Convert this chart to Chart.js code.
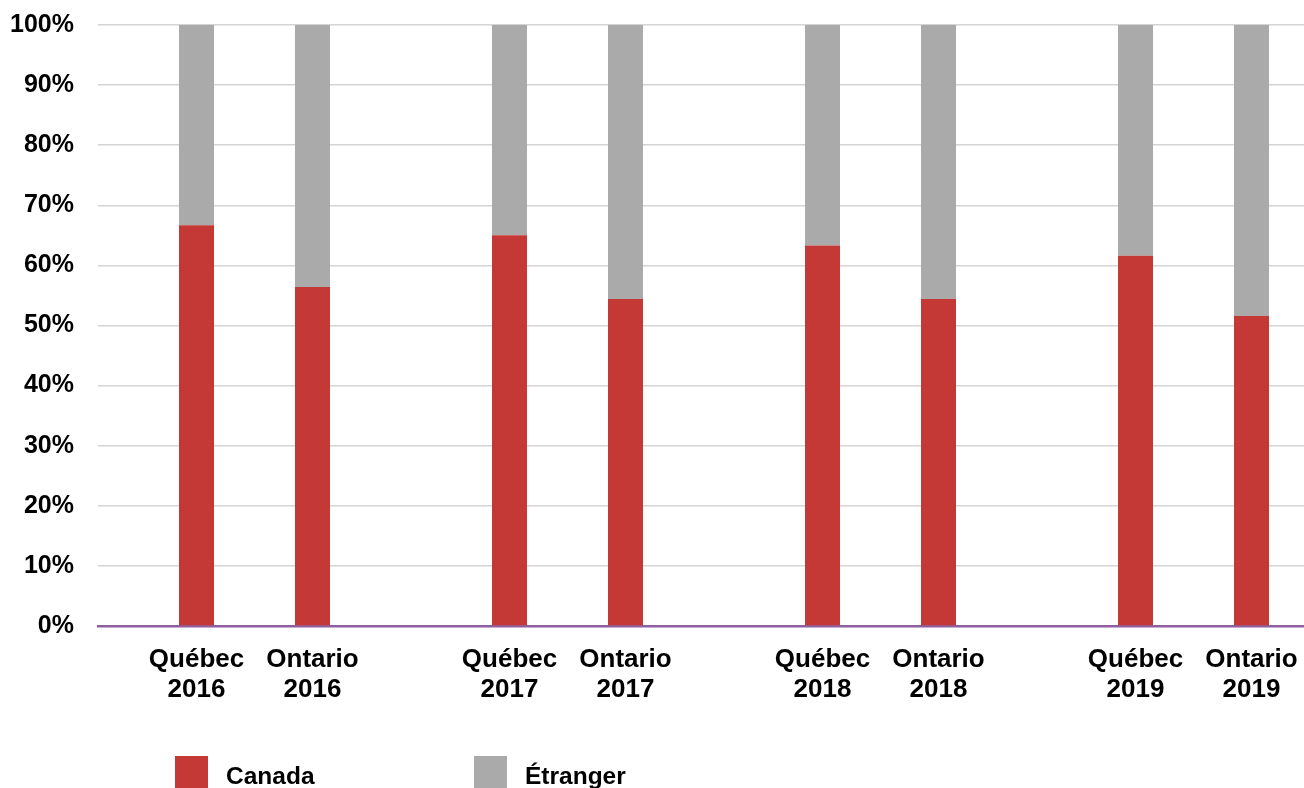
<!DOCTYPE html>
<html>
<head>
<meta charset="utf-8">
<script src="https://cdn.jsdelivr.net/npm/chart.js@4.4.1/dist/chart.umd.min.js"></script>
<style>
  html, body { margin: 0; padding: 0; background: #ffffff; overflow: hidden; width: 1304px; height: 788px; }
  canvas { display: block; }
</style>
</head>
<body>
<canvas id="chart" width="1350" height="788"></canvas>
<script>
// Origine des étudiants : part Canada / Étranger, par province et par année (%)
const years = ['2016', '2017', '2018', '2019'];
const provinces = ['Québec', 'Ontario'];
const seriesNames = ['Canada', 'Étranger'];
const seriesColors = ['#c43936', '#aaaaaa'];

const canadaQuebec    = [66.7, 65.0, 63.3, 61.6];
const etrangerQuebec  = [33.3, 35.0, 36.7, 38.4];
const canadaOntario   = [56.4, 54.4, 54.4, 51.6];
const etrangerOntario = [43.6, 45.6, 45.6, 48.4];

const FONT = '"Liberation Sans", Arial, Helvetica, sans-serif';

function makeSet(seriesIdx, province, values) {
  return {
    label: seriesNames[seriesIdx],
    stack: province,
    data: values,
    backgroundColor: seriesColors[seriesIdx],
    borderWidth: 0,
    categoryPercentage: 0.7412,
    barPercentage: 0.3017
  };
}

// Libellés sous chaque barre et légende
const barLabels = {
  id: 'barLabels',
  afterDraw(chart) {
    const ctx = chart.ctx;
    ctx.save();
    ctx.fillStyle = '#000000';
    ctx.textAlign = 'center';
    ctx.textBaseline = 'alphabetic';
    ctx.font = 'bold 26px ' + FONT;
    chart.data.datasets.forEach((ds, i) => {
      if (ds.label !== seriesNames[0]) return;
      chart.getDatasetMeta(i).data.forEach((bar, j) => {
        ctx.fillText(ds.stack, bar.x, 667);
        ctx.fillText(chart.data.labels[j], bar.x, 696.5);
      });
    });

    const legendX = [175, 474];
    ctx.textAlign = 'left';
    ctx.font = 'bold 24.5px ' + FONT;
    seriesNames.forEach((name, k) => {
      ctx.fillStyle = seriesColors[k];
      ctx.fillRect(legendX[k], 756, 33, 33);
      ctx.fillStyle = '#000000';
      ctx.fillText(name, legendX[k] + 51, 784);
    });
    ctx.restore();
  }
};

new Chart(document.getElementById('chart'), {
  type: 'bar',
  data: {
    labels: years,
    datasets: [
      makeSet(0, provinces[0], canadaQuebec),
      makeSet(1, provinces[0], etrangerQuebec),
      makeSet(0, provinces[1], canadaOntario),
      makeSet(1, provinces[1], etrangerOntario)
    ]
  },
  options: {
    responsive: false,
    animation: false,
    devicePixelRatio: 1,
    layout: { padding: { top: 25, left: 0, right: 0, bottom: 0 } },
    plugins: {
      legend: { display: false },
      tooltip: { enabled: false }
    },
    scales: {
      x: {
        type: 'category',
        stacked: true,
        offset: true,
        z: 1,
        grid: { display: false },
        ticks: { display: false },
        border: { display: true, color: '#8f5fa0', width: 2.5 },
        afterFit(scale) { scale.height = 162; }
      },
      y: {
        stacked: true,
        min: 0,
        max: 100,
        ticks: {
          stepSize: 10,
          padding: 24,
          color: '#000000',
          font: { family: FONT, size: 25, weight: 'bold' },
          callback: (v) => v + '%'
        },
        grid: { color: '#d4d4d4', lineWidth: 1.5, drawTicks: false },
        border: { display: false },
        afterFit(scale) {
          scale.width = 98;
          scale.paddingTop = 0;
          scale.paddingBottom = 0;
        }
      }
    }
  },
  plugins: [barLabels]
});
</script>
</body>
</html>
